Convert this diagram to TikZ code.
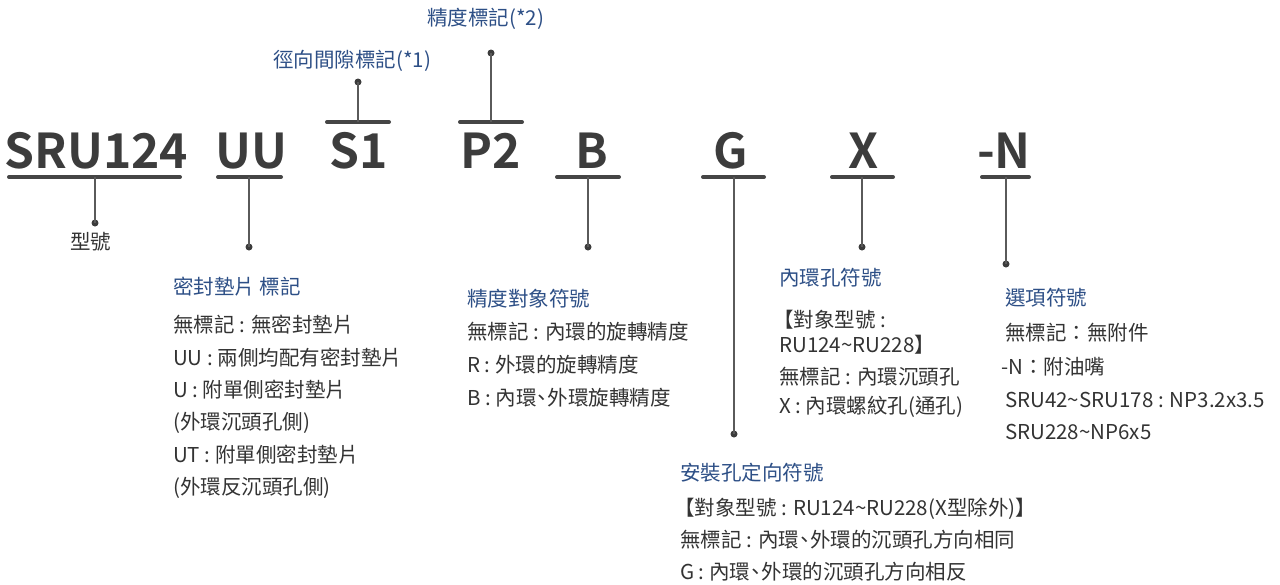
\documentclass[tikz,border=0pt]{standalone}
\usepackage{fontspec}
\setmainfont{Noto Sans CJK TC}
\newfontfamily\codefont{Noto Sans CJK TC}[UprightFont=* Bold]
\newcommand\tld{\char"7E\relax}
\newcommand\dun{\makebox[0.55em][c]{、}}
\definecolor{codegray}{HTML}{3C3C3C}
\definecolor{ulgray}{HTML}{454545}
\definecolor{conngray}{HTML}{5A5A5A}
\definecolor{dotgray}{HTML}{3C3C3C}
\definecolor{titleblue}{HTML}{2D4F86}
\definecolor{bodygray}{HTML}{333333}
\begin{document}
\begin{tikzpicture}[x=1pt,y=-1pt,
  code/.style={font=\codefont\fontsize{48}{48}\selectfont, text=codegray, inner sep=0pt, anchor=base},
  ul/.style={line width=4pt, line cap=round, draw=ulgray},
  conn/.style={line width=1.4pt, draw=conngray},
  dotc/.style={circle, fill=dotgray, inner sep=0pt, minimum size=7pt},
  ttl/.style={font=\fontsize{20.5}{24}\selectfont, text=titleblue, inner sep=0pt, anchor=base west},
  bd/.style={font=\fontsize{20.5}{24}\selectfont, text=bodygray, inner sep=0pt, anchor=base west}]
\useasboundingbox (0,0) rectangle (1280,584);

% code letters
\node[code] (cSRU) at (96.5,168) {SRU124};
\node[code] (cUU)  at (251,168) {UU};
\node[code] (cS)   at (359,168) {S1};
\node[code] (cP)   at (491,168) {P2};
\node[code] (cB)   at (592,168) {B};
\node[code] (cG)   at (731,168) {G};
\node[code] (cX)   at (864,168) {X};
\node[code] (cN)   at (1004,168) {-N};

% underline end points and connector roots
\coordinate (aSRU) at (9,177);   \coordinate (bSRU) at (180,177);  \coordinate (mSRU) at (95,177);
\coordinate (aUU)  at (218,177); \coordinate (bUU)  at (281,177);  \coordinate (mUU)  at (249,177);
\coordinate (aS)   at (327,122); \coordinate (bS)   at (389,122);  \coordinate (mS)   at (358,122);
\coordinate (aP)   at (460,122); \coordinate (bP)   at (522,122);  \coordinate (mP)   at (491,122);
\coordinate (aB)   at (557,177); \coordinate (bB)   at (619,177);  \coordinate (mB)   at (588,177);
\coordinate (aG)   at (703,177); \coordinate (bG)   at (764,177);  \coordinate (mG)   at (734,177);
\coordinate (aX)   at (832,177); \coordinate (bX)   at (893,177);  \coordinate (mX)   at (862,177);
\coordinate (aN)   at (982,177); \coordinate (bN)   at (1029,177); \coordinate (mN)   at (1006,177);

\foreach \k in {SRU,UU,S,P,B,G,X,N} { \draw[ul] (a\k) -- (b\k); }

% dots
\node[dotc] (dSRU) at (95,223) {};
\node[dotc] (dUU)  at (249,247) {};
\node[dotc] (dS)   at (358,82) {};
\node[dotc] (dP)   at (491,53) {};
\node[dotc] (dB)   at (588,247) {};
\node[dotc] (dG)   at (734,434) {};
\node[dotc] (dX)   at (862,247) {};
\node[dotc] (dN)   at (1006,264) {};

\foreach \k in {SRU,UU,S,P,B,G,X,N} { \draw[conn] (m\k) -- (d\k.center); }

% labels above
\node[ttl] (tP) at (427,25.5) {精度標記(*2)};
\node[ttl] (tS) at (273,67.5) {徑向間隙標記(*1)};
\node[bd]  (tSRU) at (70,249.5) {型號};

% UU block
\node[ttl] (tUU) at (173,294.5) {密封墊片 標記};
\node[bd] (uu1) at (173,332.5) {無標記 : 無密封墊片};
\node[bd] (uu2) at (173,365.5) {UU : 兩側均配有密封墊片};
\node[bd] (uu3) at (173,397.5) {U : 附單側密封墊片};
\node[bd] (uu4) at (173,429.5) {(外環沉頭孔側)};
\node[bd] (uu5) at (173,462.5) {UT : 附單側密封墊片};
\node[bd] (uu6) at (173,494.5) {(外環反沉頭孔側)};

% B block
\node[ttl] (tB) at (467,306.5) {精度對象符號};
\node[bd] (b1) at (467,339.5) {無標記 : 內環的旋轉精度};
\node[bd] (b2) at (467,372.5) {R : 外環的旋轉精度};
\node[bd] (b3) at (467,405.5) {B : 內環\dun 外環旋轉精度};

% X block
\node[ttl] (tX) at (779,285.5) {內環孔符號};
\node[bd] (x1) at (773,327.5) {【對象型號 :};
\node[bd] (x2) at (779,352.5) {RU124\tld RU228】};
\node[bd] (x3) at (779,384.5) {無標記 : 內環沉頭孔};
\node[bd] (x4) at (779,413.5) {X : 內環螺紋孔(通孔)};

% N block
\node[ttl] (tN) at (1005,305.5) {選項符號};
\node[bd] (n1) at (1005,340.5) {無標記：無附件};
\node[bd] (n2) at (1001,374.5) {-N：附油嘴};
\node[bd] (n3) at (1005,407.5) {SRU42\tld SRU178 : NP3.2x3.5};
\node[bd] (n4) at (1005,439.5) {SRU228\tld NP6x5};

% G block
\node[ttl] (tG) at (680,480.5) {安裝孔定向符號};
\node[bd] (g1) at (674,515.5) {【對象型號 : RU124\tld RU228(X型除外)】};
\node[bd] (g2) at (680,547.5) {無標記 : 內環\dun 外環的沉頭孔方向相同};
\node[bd] (g3) at (680,579.5) {G : 內環\dun 外環的沉頭孔方向相反};
\end{tikzpicture}
\end{document}
